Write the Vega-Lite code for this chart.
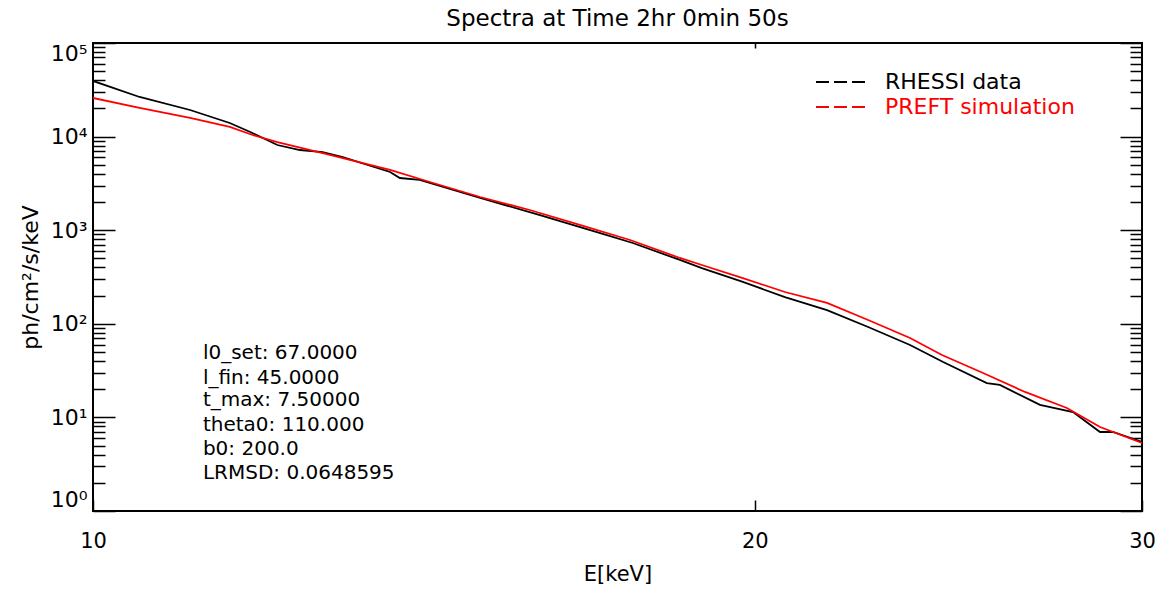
{
  "$schema": "https://vega.github.io/schema/vega-lite/v6.json",
  "width": 1049,
  "height": 468,
  "autosize": {"type": "none"},
  "padding": {"left": 93, "top": 43, "right": 23, "bottom": 79},
  "background": "white",
  "title": {"text": "Spectra at Time 2hr 0min 50s", "anchor": "middle", "offset": 5, "fontSize": 23, "font": "DejaVu Sans", "fontWeight": "normal", "color": "black"},
  "config": {
    "view": {"stroke": "black", "strokeWidth": 2},
    "axis": {"domain": false, "grid": false, "tickColor": "black", "tickWidth": 1.5, "labelColor": "black", "titleColor": "black", "labelFont": "DejaVu Sans", "titleFont": "DejaVu Sans", "labelFontSize": 21, "titleFontSize": 21, "titleFontWeight": "normal", "labelOverlap": false}
  },
  "datasets": {
    "spectra": [
      {"E": 10.00, "flux": 39300, "series": "RHESSI data"},
      {"E": 10.50, "flux": 26500, "series": "RHESSI data"},
      {"E": 11.07, "flux": 19240, "series": "RHESSI data"},
      {"E": 11.54, "flux": 13970, "series": "RHESSI data"},
      {"E": 11.79, "flux": 11200, "series": "RHESSI data"},
      {"E": 12.13, "flux": 8130, "series": "RHESSI data"},
      {"E": 12.42, "flux": 7190, "series": "RHESSI data"},
      {"E": 12.72, "flux": 6840, "series": "RHESSI data"},
      {"E": 12.99, "flux": 6050, "series": "RHESSI data"},
      {"E": 13.65, "flux": 4190, "series": "RHESSI data"},
      {"E": 13.79, "flux": 3610, "series": "RHESSI data"},
      {"E": 14.08, "flux": 3440, "series": "RHESSI data"},
      {"E": 15.00, "flux": 2208, "series": "RHESSI data"},
      {"E": 15.97, "flux": 1453, "series": "RHESSI data"},
      {"E": 17.01, "flux": 933, "series": "RHESSI data"},
      {"E": 17.60, "flux": 730, "series": "RHESSI data"},
      {"E": 18.49, "flux": 481, "series": "RHESSI data"},
      {"E": 18.92, "flux": 394, "series": "RHESSI data"},
      {"E": 19.75, "flux": 280, "series": "RHESSI data"},
      {"E": 20.64, "flux": 193, "series": "RHESSI data"},
      {"E": 21.57, "flux": 140, "series": "RHESSI data"},
      {"E": 22.52, "flux": 92.4, "series": "RHESSI data"},
      {"E": 23.53, "flux": 59.4, "series": "RHESSI data"},
      {"E": 24.36, "flux": 39.1, "series": "RHESSI data"},
      {"E": 25.50, "flux": 23.3, "series": "RHESSI data"},
      {"E": 25.85, "flux": 22.2, "series": "RHESSI data"},
      {"E": 26.96, "flux": 13.6, "series": "RHESSI data"},
      {"E": 27.91, "flux": 11.4, "series": "RHESSI data"},
      {"E": 28.71, "flux": 6.98, "series": "RHESSI data"},
      {"E": 29.10, "flux": 6.98, "series": "RHESSI data"},
      {"E": 30.00, "flux": 5.46, "series": "RHESSI data"},
      {"E": 10.00, "flux": 25850, "series": "PREFT simulation"},
      {"E": 10.50, "flux": 20220, "series": "PREFT simulation"},
      {"E": 11.07, "flux": 15810, "series": "PREFT simulation"},
      {"E": 11.54, "flux": 12670, "series": "PREFT simulation"},
      {"E": 11.82, "flux": 10400, "series": "PREFT simulation"},
      {"E": 12.13, "flux": 8750, "series": "PREFT simulation"},
      {"E": 12.72, "flux": 6680, "series": "PREFT simulation"},
      {"E": 13.65, "flux": 4400, "series": "PREFT simulation"},
      {"E": 14.23, "flux": 3273, "series": "PREFT simulation"},
      {"E": 15.00, "flux": 2263, "series": "PREFT simulation"},
      {"E": 15.80, "flux": 1644, "series": "PREFT simulation"},
      {"E": 16.65, "flux": 1137, "series": "PREFT simulation"},
      {"E": 17.55, "flux": 786, "series": "PREFT simulation"},
      {"E": 18.49, "flux": 505, "series": "PREFT simulation"},
      {"E": 18.92, "flux": 425, "series": "PREFT simulation"},
      {"E": 19.75, "flux": 308, "series": "PREFT simulation"},
      {"E": 20.64, "flux": 218.6, "series": "PREFT simulation"},
      {"E": 21.57, "flux": 167, "series": "PREFT simulation"},
      {"E": 22.52, "flux": 109.8, "series": "PREFT simulation"},
      {"E": 23.53, "flux": 70.5, "series": "PREFT simulation"},
      {"E": 24.33, "flux": 46.4, "series": "PREFT simulation"},
      {"E": 25.40, "flux": 29.8, "series": "PREFT simulation"},
      {"E": 26.54, "flux": 18.7, "series": "PREFT simulation"},
      {"E": 27.73, "flux": 12.6, "series": "PREFT simulation"},
      {"E": 28.71, "flux": 7.89, "series": "PREFT simulation"},
      {"E": 30.00, "flux": 5.33, "series": "PREFT simulation"}
    ],
    "notes": [
      {"E": 11.22, "flux": 48.8, "label": "l0_set: 67.0000"},
      {"E": 11.22, "flux": 26.4, "label": "l_fin: 45.0000"},
      {"E": 11.22, "flux": 15.3, "label": "t_max: 7.50000"},
      {"E": 11.22, "flux": 8.3, "label": "theta0: 110.000"},
      {"E": 11.22, "flux": 4.6, "label": "b0: 200.0"},
      {"E": 11.22, "flux": 2.55, "label": "LRMSD: 0.0648595"}
    ]
  },
  "layer": [
    {
      "data": {"name": "spectra"},
      "mark": {"type": "line", "strokeWidth": 1.8, "clip": true},
      "encoding": {
        "x": {"field": "E", "type": "quantitative", "scale": {"type": "log", "domain": [10, 30], "nice": false},
          "axis": {"orient": "bottom", "values": [10, 20, 30], "tickSize": -11, "labelPadding": 30, "labelFlush": false, "title": "E[keV]", "titlePadding": 12, "format": "d"}},
        "y": {"field": "flux", "type": "quantitative", "scale": {"type": "log", "domain": [1, 100000], "nice": false},
          "axis": {"orient": "left", "title": "ph/cm²/s/keV", "titlePadding": 8, "titleFontSize": 22, "labelFontSize": 22, "labelFlush": true, "labelPadding": 28,
            "values": [1,2,3,4,5,6,7,8,9,10,20,30,40,50,60,70,80,90,100,200,300,400,500,600,700,800,900,1000,2000,3000,4000,5000,6000,7000,8000,9000,10000,20000,30000,40000,50000,60000,70000,80000,90000,100000],
            "tickSize": {"condition": {"test": "abs(log(datum.value)/LN10 - round(log(datum.value)/LN10)) < 0.0001", "value": -22}, "value": -12},
            "labelExpr": "abs(log(datum.value)/LN10 - round(log(datum.value)/LN10)) < 0.0001 ? '10' + ['⁰','¹','²','³','⁴','⁵'][round(log(datum.value)/LN10)] : ''"}},
        "color": {"field": "series", "type": "nominal", "sort": ["RHESSI data", "PREFT simulation"],
          "scale": {"domain": ["RHESSI data", "PREFT simulation"], "range": ["black", "#ff0000"]},
          "legend": {"orient": "none", "legendX": 755, "legendY": 28, "title": null, "symbolType": "M-7.17,0H-5M-4.17,0H-2M-1.17,0H1", "symbolSize": 144, "symbolStrokeWidth": 2, "labelFontSize": 22, "labelFont": "DejaVu Sans", "labelOffset": 15, "rowPadding": 3, "padding": 0, "labelLimit": 400,
            "encode": {"labels": {"update": {"fill": {"signal": "datum.label === 'RHESSI data' ? 'black' : '#ff0000'"}}}}}}
      }
    },
    {
      "data": {"name": "spectra"},
      "mark": {"type": "line", "opacity": 0},
      "encoding": {
        "x": {"field": "E", "type": "quantitative", "axis": {"orient": "top", "values": [20], "tickSize": -5, "labels": false, "title": null}},
        "y": {"field": "flux", "type": "quantitative",
          "axis": {"orient": "right", "title": null, "labels": false,
            "values": [1,2,3,4,5,6,7,8,9,10,20,30,40,50,60,70,80,90,100,200,300,400,500,600,700,800,900,1000,2000,3000,4000,5000,6000,7000,8000,9000,10000,20000,30000,40000,50000,60000,70000,80000,90000,100000],
            "tickSize": {"condition": {"test": "abs(log(datum.value)/LN10 - round(log(datum.value)/LN10)) < 0.0001", "value": -22}, "value": -12}}},
        "detail": {"field": "series"}
      }
    },
    {
      "data": {"name": "notes"},
      "mark": {"type": "text", "align": "left", "baseline": "middle", "fontSize": 20, "font": "DejaVu Sans", "color": "black"},
      "encoding": {
        "x": {"field": "E", "type": "quantitative", "axis": null},
        "y": {"field": "flux", "type": "quantitative", "axis": null},
        "text": {"field": "label"}
      }
    }
  ],
  "resolve": {"axis": {"x": "independent", "y": "independent"}}
}
